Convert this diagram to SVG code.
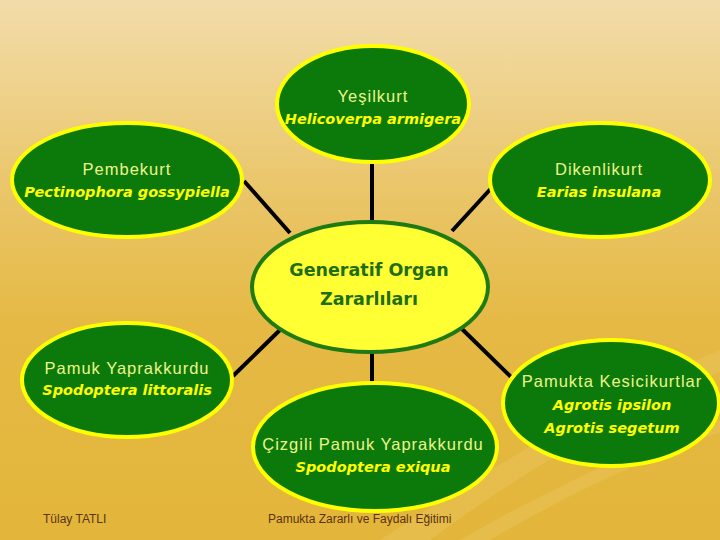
<svg xmlns="http://www.w3.org/2000/svg" width="720" height="540" viewBox="0 0 720 540">
<defs>
<linearGradient id="bg" x1="0" y1="0" x2="0" y2="1">
<stop offset="0" stop-color="#f2dcaa"/>
<stop offset="0.35" stop-color="#eac66a"/>
<stop offset="0.6" stop-color="#e5b944"/>
<stop offset="1" stop-color="#e3b53a"/>
</linearGradient>
<style>
.leaf ellipse{fill:#0b7a0b;stroke:#ffff00;stroke-width:4}
.cn{fill:#ffff33;stroke:#1f7a12;stroke-width:4}
.com{font-family:"Liberation Sans",Arial,sans-serif;font-size:16.5px;letter-spacing:1px;fill:#eef58a;text-anchor:middle}
.sp{font-family:"DejaVu Sans","Liberation Sans",sans-serif;font-size:14.5px;font-weight:bold;font-style:italic;fill:#ffff00;text-anchor:middle}
.ct{font-family:"DejaVu Sans","Liberation Sans",sans-serif;font-size:17.5px;font-weight:bold;fill:#1f6e14;text-anchor:middle}
.ft{font-family:"Liberation Sans",Arial,sans-serif;font-size:12px;fill:#5a3312}
#connectors line{stroke:#000;stroke-width:4}
</style>
</defs>
<rect width="720" height="540" fill="url(#bg)"/>
<path d="M380,540 Q560,420 720,350 L720,372 Q580,430 430,540 Z" fill="#f0d27a" opacity="0.25"/>
<path d="M460,540 Q600,460 720,420 L720,432 Q610,470 490,540 Z" fill="#f3da8a" opacity="0.2"/>
<g id="connectors">
<line x1="372" y1="162" x2="372" y2="223"/>
<line x1="244" y1="181" x2="290" y2="233"/>
<line x1="496" y1="183" x2="452" y2="231"/>
<line x1="283" y1="327" x2="233" y2="376"/>
<line x1="460" y1="327" x2="512" y2="378"/>
<line x1="372" y1="352" x2="372" y2="386"/>
</g>
<g id="n-yesilkurt" class="leaf"><ellipse cx="373" cy="104" rx="96" ry="58"/>
<text class="com" x="373" y="102">Yeşilkurt</text><text class="sp" x="373" y="124">Helicoverpa armigera</text></g>
<g id="n-pembekurt" class="leaf"><ellipse cx="127" cy="180" rx="115" ry="57"/>
<text class="com" x="127" y="175">Pembekurt</text><text class="sp" x="127" y="197">Pectinophora gossypiella</text></g>
<g id="n-dikenlikurt" class="leaf"><ellipse cx="600" cy="180" rx="110" ry="57"/>
<text class="com" x="599" y="175">Dikenlikurt</text><text class="sp" x="599" y="197">Earias insulana</text></g>
<g id="n-center"><ellipse class="cn" cx="370" cy="287" rx="118" ry="65"/>
<text class="ct" x="369" y="276">Generatif Organ</text><text class="ct" x="369" y="305">Zararlıları</text></g>
<g id="n-pamukyaprak" class="leaf"><ellipse cx="127" cy="380" rx="105" ry="57"/>
<text class="com" x="127" y="374">Pamuk Yaprakkurdu</text><text class="sp" x="127" y="395">Spodoptera littoralis</text></g>
<g id="n-kesici" class="leaf"><ellipse cx="611" cy="403" rx="108" ry="63"/>
<text class="com" x="612" y="387">Pamukta Kesicikurtlar</text><text class="sp" x="612" y="410">Agrotis ipsilon</text><text class="sp" x="612" y="433">Agrotis segetum</text></g>
<g id="n-cizgili" class="leaf"><ellipse cx="375" cy="447" rx="122" ry="64"/>
<text class="com" x="373" y="450">Çizgili Pamuk Yaprakkurdu</text><text class="sp" x="373" y="472">Spodoptera exiqua</text></g>
<text class="ft" x="43" y="523">Tülay TATLI</text>
<text class="ft" x="268" y="523">Pamukta Zararlı ve Faydalı Eğitimi</text>
</svg>
